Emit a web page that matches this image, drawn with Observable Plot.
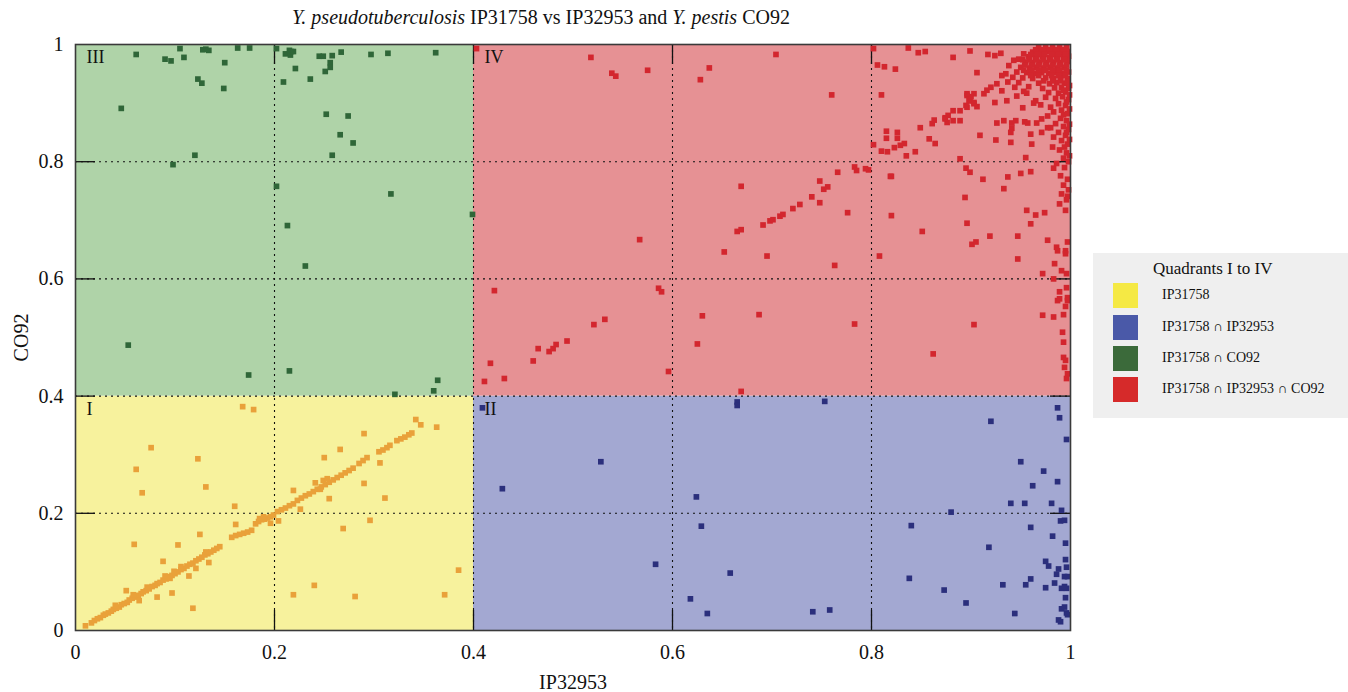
<!DOCTYPE html>
<html>
<head>
<meta charset="utf-8">
<script src="https://cdn.jsdelivr.net/npm/d3@7"></script>
<script src="https://cdn.jsdelivr.net/npm/@observablehq/plot@0.6"></script>
<style>
  body { margin: 0; background: #fff; font-family: "Liberation Serif", "DejaVu Serif", serif; }
  #wrap { position: relative; width: 1348px; height: 692px; overflow: hidden; }
  #title { position: absolute; left: 0; top: 6px; width: 1082px; text-align: center; font-size: 20px; color: #111; }
  #chart { position: absolute; left: 0; top: 0; }
  #legend { position: absolute; left: 1093px; top: 253px; width: 255px; height: 165px; background: #efefef; }
  #legend .lt { position: absolute; left: 60px; top: 6px; font-size: 17px; color: #111; }
  #legend .sw { position: absolute; left: 20px; width: 25px; height: 25px; }
  #legend .lb { position: absolute; left: 69px; font-size: 14px; color: #111; }
  svg text { font-family: "Liberation Serif", "DejaVu Serif", serif; }
</style>
</head>
<body>
<div id="wrap">
  <div id="chart"></div>
  <div id="title"><i>Y. pseudotuberculosis</i> IP31758 vs IP32953 and <i>Y. pestis</i> CO92</div>
  <div id="legend"></div>
</div>
<script>
// ---------- data ----------
const xTicks = [0, 0.2, 0.4, 0.6, 0.8, 1];
const yTicks = [0, 0.2, 0.4, 0.6, 0.8, 1];
const gridTicks = [0.2, 0.4, 0.6, 0.8];
const xLabel = "IP32953";
const yLabel = "CO92";
const legendTitle = "Quadrants I to IV";
const quadNames = ["I", "II", "III", "IV"];
const legendLabels = ["IP31758", "IP31758 \u2229 IP32953", "IP31758 \u2229 CO92", "IP31758 \u2229 IP32953 \u2229 CO92"];
const quadX1 = [0, 0.4, 0, 0.4];
const quadX2 = [0.4, 1, 0.4, 1];
const quadY1 = [0, 0, 0.4, 0.4];
const quadY2 = [0.4, 0.4, 1, 1];

// Quadrant I: IP31758 only
const ptsI = [
[0.010,0.008],[0.016,0.013],[0.019,0.017],[0.022,0.020],[0.025,0.022],[0.028,0.026],[0.030,0.028],[0.033,0.030],
[0.036,0.033],[0.038,0.036],[0.041,0.038],[0.044,0.040],[0.046,0.044],[0.049,0.046],[0.052,0.048],[0.054,0.052],
[0.057,0.055],[0.060,0.057],[0.063,0.060],[0.066,0.063],[0.068,0.066],[0.071,0.068],[0.074,0.071],[0.077,0.075],
[0.080,0.077],[0.082,0.080],[0.085,0.082],[0.088,0.086],[0.091,0.088],[0.094,0.092],[0.097,0.094],[0.100,0.097],
[0.103,0.100],[0.106,0.104],[0.109,0.106],[0.112,0.110],[0.115,0.113],[0.118,0.115],[0.121,0.119],[0.124,0.122],
[0.127,0.125],[0.130,0.129],[0.133,0.131],[0.136,0.134],[0.139,0.137],[0.142,0.140],[0.145,0.143],
[0.040,0.043],[0.058,0.061],[0.072,0.074],[0.090,0.093],[0.095,0.089],[0.099,0.101],[0.106,0.109],[0.131,0.134],
[0.157,0.159],[0.161,0.162],[0.165,0.164],[0.169,0.166],[0.173,0.168],[0.177,0.171],
[0.181,0.182],[0.184,0.186],[0.187,0.189],[0.190,0.190],[0.193,0.192],[0.196,0.194],[0.199,0.197],[0.185,0.191],[0.189,0.194],
[0.203,0.203],[0.207,0.206],[0.211,0.209],[0.215,0.213],[0.219,0.216],
[0.223,0.222],[0.227,0.226],[0.231,0.230],[0.235,0.233],[0.239,0.237],[0.243,0.241],[0.247,0.245],[0.251,0.249],
[0.255,0.253],[0.259,0.257],[0.263,0.261],[0.267,0.265],[0.271,0.269],[0.275,0.273],[0.279,0.277],[0.249,0.256],
[0.253,0.259],[0.246,0.241],[0.285,0.285],[0.289,0.290],[0.293,0.295],
[0.305,0.305],[0.309,0.308],[0.313,0.312],[0.316,0.316],
[0.323,0.324],[0.327,0.327],[0.331,0.330],[0.335,0.334],[0.338,0.337],[0.342,0.360],[0.347,0.351],
[0.168,0.382],[0.179,0.377],[0.076,0.312],[0.061,0.275],[0.067,0.235],[0.123,0.293],[0.131,0.245],[0.160,0.212],
[0.161,0.181],[0.125,0.164],[0.059,0.147],[0.103,0.146],[0.088,0.118],[0.134,0.116],[0.051,0.068],[0.064,0.051],
[0.082,0.057],[0.097,0.064],[0.118,0.038],[0.114,0.093],[0.121,0.106],[0.196,0.183],[0.204,0.187],[0.219,0.239],
[0.226,0.207],[0.241,0.252],[0.250,0.295],[0.266,0.309],[0.255,0.225],[0.269,0.174],[0.290,0.336],[0.290,0.251],
[0.296,0.188],[0.306,0.286],[0.311,0.226],[0.363,0.347],[0.385,0.103],[0.371,0.061],[0.281,0.058],[0.240,0.077],[0.219,0.061]
];

// Quadrant II: IP31758 ∩ IP32953
const ptsII = [
[0.409,0.380],[0.429,0.242],[0.528,0.288],[0.583,0.113],[0.624,0.228],[0.629,0.178],[0.618,0.054],[0.635,0.029],
[0.658,0.098],[0.665,0.390],[0.665,0.384],[0.753,0.391],[0.741,0.032],[0.758,0.035],[0.838,0.089],[0.840,0.179],
[0.873,0.069],[0.880,0.202],[0.895,0.047],[0.918,0.142],[0.920,0.357],[0.932,0.078],[0.940,0.217],[0.944,0.029],
[0.950,0.288],[0.954,0.217],[0.955,0.078],[0.960,0.176],[0.960,0.088],[0.962,0.247],[0.973,0.272],[0.975,0.118],
[0.978,0.110],[0.975,0.073],[0.981,0.217],[0.982,0.161],[0.984,0.081],[0.986,0.096],[0.987,0.380],[0.989,0.363],
[0.987,0.254],[0.988,0.105],[0.991,0.205],[0.990,0.187],[0.994,0.188],[0.991,0.072],[0.995,0.149],[0.996,0.326],
[0.995,0.121],[0.996,0.108],[0.994,0.092],[0.997,0.092],[0.996,0.072],[0.994,0.075],[0.995,0.056],[0.991,0.037],
[0.994,0.040],[0.996,0.030],[0.997,0.027],[0.988,0.018],[0.990,0.015]
];

// Quadrant III: IP31758 ∩ CO92
const ptsIII = [
[0.061,0.983],[0.090,0.975],[0.096,0.972],[0.105,0.993],[0.109,0.978],[0.128,0.991],[0.131,0.992],[0.134,0.990],
[0.150,0.969],[0.163,0.994],[0.175,0.994],[0.123,0.941],[0.127,0.934],[0.149,0.925],[0.046,0.891],[0.120,0.811],
[0.098,0.795],[0.202,0.993],[0.211,0.984],[0.215,0.990],[0.217,0.988],[0.216,0.982],[0.219,0.988],[0.221,0.959],
[0.209,0.936],[0.236,0.941],[0.245,0.980],[0.249,0.980],[0.258,0.981],[0.256,0.969],[0.256,0.961],[0.251,0.954],
[0.267,0.987],[0.297,0.983],[0.314,0.985],[0.362,0.986],[0.252,0.881],[0.274,0.878],[0.266,0.846],[0.279,0.832],
[0.258,0.811],[0.202,0.758],[0.317,0.745],[0.399,0.710],[0.213,0.691],[0.231,0.622],[0.053,0.487],[0.174,0.436],
[0.215,0.443],[0.364,0.427],[0.360,0.409],[0.321,0.403]
];

// Quadrant IV: IP31758 ∩ IP32953 ∩ CO92
const ptsIV = [
[0.403,0.993],[0.518,0.978],[0.539,0.951],[0.543,0.946],[0.575,0.956],[0.628,0.940],[0.637,0.960],[0.704,0.983],
[0.760,0.914],[0.669,0.758],[0.567,0.667],[0.652,0.646],[0.695,0.639],[0.763,0.623],[0.776,0.713],[0.665,0.681],
[0.669,0.684],[0.691,0.692],[0.698,0.699],[0.701,0.701],[0.708,0.707],[0.711,0.710],[0.721,0.720],[0.728,0.727],
[0.740,0.740],[0.748,0.730],[0.748,0.767],[0.752,0.753],[0.756,0.757],[0.766,0.782],[0.783,0.791],[0.785,0.785],
[0.797,0.786],[0.411,0.425],[0.431,0.430],[0.417,0.456],[0.421,0.580],[0.460,0.460],[0.465,0.481],[0.476,0.476],
[0.480,0.481],[0.483,0.488],[0.494,0.494],[0.521,0.522],[0.532,0.531],[0.586,0.584],[0.589,0.578],[0.596,0.442],
[0.625,0.489],[0.630,0.537],[0.669,0.408],[0.687,0.539],[0.783,0.523],[0.808,0.639],[0.862,0.472],[0.851,0.681],
[0.820,0.708],[0.819,0.775],
[0.802,0.993],[0.806,0.965],[0.813,0.962],[0.824,0.958],[0.837,0.994],[0.847,0.986],[0.854,0.988],[0.882,0.978],
[0.899,0.989],[0.917,0.983],[0.924,0.981],[0.930,0.985],[0.906,0.952],[0.810,0.914],
[0.849,0.858],[0.861,0.865],[0.863,0.871],[0.874,0.875],[0.877,0.879],[0.882,0.887],[0.889,0.887],[0.896,0.893],
[0.899,0.904],[0.903,0.899],[0.896,0.913],[0.903,0.916],[0.913,0.916],[0.916,0.922],[0.920,0.927],[0.926,0.933],
[0.931,0.947],[0.935,0.950],[0.938,0.964],[0.943,0.973],[0.948,0.975],[0.953,0.984],[0.876,0.867],[0.882,0.870],
[0.889,0.870],[0.874,0.873],[0.895,0.896],[0.898,0.904],[0.900,0.911],[0.903,0.901],[0.906,0.894],[0.896,0.916],
[0.924,0.901],[0.956,0.917],[0.965,0.904],[0.963,0.900],[0.926,0.866],[0.933,0.870],[0.941,0.866],[0.945,0.870],
[0.954,0.868],[0.957,0.866],[0.966,0.866],[0.971,0.873],[0.941,0.857],[0.940,0.850],[0.960,0.847],[0.961,0.830],
[0.955,0.807],[0.971,0.850],[0.980,0.858],[0.802,0.829],[0.815,0.852],[0.815,0.840],[0.826,0.850],[0.826,0.840],
[0.810,0.818],[0.816,0.817],[0.823,0.824],[0.829,0.828],[0.833,0.831],[0.835,0.810],[0.844,0.817],[0.858,0.839],
[0.864,0.831],[0.909,0.845],[0.925,0.837],[0.940,0.833],[0.889,0.805],[0.895,0.789],[0.899,0.782],[0.912,0.770],
[0.937,0.774],[0.950,0.780],[0.960,0.783],[0.933,0.754],[0.894,0.739],[0.820,0.775],[0.956,0.717],[0.965,0.709],
[0.974,0.713],[0.983,0.789],[0.794,0.788],
[0.989,0.728],[0.995,0.717],[0.997,0.741],[0.960,0.694],[0.896,0.695],[0.901,0.659],[0.905,0.663],[0.919,0.673],
[0.947,0.673],[0.947,0.634],[0.977,0.666],[0.986,0.654],[0.987,0.648],[0.995,0.648],[0.995,0.643],[0.997,0.663],
[0.984,0.626],[0.972,0.609],[0.991,0.614],[0.996,0.609],[0.983,0.600],[0.996,0.585],[0.989,0.578],[0.987,0.563],
[0.989,0.566],[0.997,0.568],[0.997,0.563],[0.995,0.553],[0.972,0.538],[0.983,0.535],[0.993,0.539],[0.903,0.522],
[0.992,0.509],[0.993,0.492],[0.993,0.466],[0.995,0.461],[0.994,0.449],[0.997,0.438],[0.996,0.430],
[0.968,0.995],[0.975,0.995],[0.982,0.995],[0.989,0.995],[0.996,0.995],
[0.962,0.987],[0.970,0.986],[0.977,0.988],[0.984,0.987],[0.991,0.986],[0.997,0.988],
[0.958,0.979],[0.965,0.978],[0.972,0.979],[0.979,0.978],[0.986,0.979],[0.993,0.978],[0.998,0.980],
[0.955,0.970],[0.962,0.969],[0.969,0.970],[0.976,0.969],[0.983,0.970],[0.990,0.969],[0.997,0.971],
[0.950,0.961],[0.959,0.960],[0.966,0.961],[0.973,0.960],[0.980,0.961],[0.987,0.960],[0.994,0.961],
[0.946,0.953],[0.956,0.952],[0.964,0.951],[0.971,0.952],[0.978,0.951],[0.985,0.952],[0.992,0.951],[0.998,0.953],
[0.942,0.944],[0.952,0.943],[0.962,0.942],[0.975,0.943],[0.983,0.942],[0.990,0.943],[0.997,0.942],
[0.937,0.936],[0.948,0.935],[0.968,0.934],[0.979,0.933],[0.986,0.935],[0.994,0.934],
[0.944,0.927],[0.958,0.928],[0.972,0.925],[0.984,0.926],[0.991,0.927],[0.998,0.925],
[0.931,0.921],[0.953,0.920],[0.978,0.918],[0.988,0.917],[0.995,0.919],
[0.946,0.912],[0.975,0.910],[0.985,0.908],[0.992,0.911],[0.998,0.906],
[0.936,0.904],[0.970,0.897],[0.980,0.893],[0.988,0.899],[0.995,0.896],
[0.952,0.892],[0.983,0.885],[0.991,0.888],[0.997,0.882],
[0.977,0.878],[0.990,0.874],[0.996,0.870],[0.985,0.865],[0.993,0.860],[0.998,0.855],
[0.977,0.858],[0.988,0.850],[0.995,0.845],[0.983,0.842],[0.991,0.836],[0.997,0.830],
[0.982,0.825],[0.989,0.820],[0.996,0.815],[0.993,0.806],[0.998,0.800],[0.986,0.797],
[0.994,0.790],[0.990,0.776],[0.997,0.770],[0.993,0.760],[0.998,0.752],[0.991,0.745],[0.996,0.735],
[0.965,0.991],[0.972,0.991],[0.979,0.991],[0.986,0.991],[0.993,0.991],
[0.960,0.983],[0.967,0.983],[0.974,0.983],[0.981,0.983],[0.988,0.983],[0.995,0.983],
[0.952,0.974],[0.959,0.974],[0.966,0.974],[0.973,0.974],[0.980,0.974],[0.987,0.974],[0.994,0.974],
[0.954,0.965],[0.961,0.965],[0.968,0.965],[0.975,0.965],[0.982,0.965],[0.989,0.965],[0.996,0.965],
[0.953,0.956],[0.961,0.956],[0.968,0.956],[0.975,0.956],[0.982,0.956],[0.989,0.956],[0.996,0.956],
[0.960,0.947],[0.968,0.947],[0.981,0.947],[0.988,0.947],[0.995,0.947],
[0.973,0.938],[0.982,0.938],[0.990,0.938],[0.997,0.937],
[0.999,0.930],[0.993,0.922],[0.999,0.914],[0.996,0.902],[0.999,0.890],[0.993,0.880],[0.999,0.864],
[0.996,0.850],[0.999,0.838],[0.994,0.825],[0.999,0.810]
];

// ---------- styling ----------
const bgColor = {I: "#f7f29d", II: "#a3a8d2", III: "#afd3a8", IV: "#e69194"};
const dotColor = {I: "#e9a13a", II: "#2b2f7c", III: "#2f6638", IV: "#d3262e"};
const legendColor = ["#f5e944", "#4a59a8", "#3b6a3a", "#d62a2a"];
const serif = "Liberation Serif, DejaVu Serif, serif";

const quads = quadNames.map((q, i) => ({q, x1: quadX1[i], x2: quadX2[i], y1: quadY1[i], y2: quadY2[i]}));
const series = [["I", ptsI], ["II", ptsII], ["III", ptsIII], ["IV", ptsIV]];
const allPts = series.flatMap(([q, arr]) => arr.map(p => ({q, x: p[0], y: p[1]})));

const W = 1082, H = 692, mT = 44, mL = 75, mR = 12, mB = 62;
const fw = W - mL - mR, fh = H - mT - mB;
const fmt = d => String(d);

const chart = Plot.plot({
  width: W, height: H,
  marginTop: mT, marginLeft: mL, marginRight: mR, marginBottom: mB,
  style: {fontFamily: serif, background: "transparent", color: "#111"},
  x: {domain: [0, 1]},
  y: {domain: [0, 1]},
  marks: [
    Plot.rect(quads, {x1: "x1", x2: "x2", y1: "y1", y2: "y2", fill: d => bgColor[d.q]}),
    Plot.ruleX(gridTicks, {stroke: "#111", strokeWidth: 1.1, strokeDasharray: "2,4"}),
    Plot.ruleY(gridTicks, {stroke: "#111", strokeWidth: 1.1, strokeDasharray: "2,4"}),
    Plot.ruleX(gridTicks, {stroke: "#111", strokeWidth: 1.3, insetTop: fh - 20}),
    Plot.ruleX(gridTicks, {stroke: "#111", strokeWidth: 1.3, insetBottom: fh - 20}),
    Plot.ruleY(gridTicks, {stroke: "#111", strokeWidth: 1.3, insetRight: fw - 20}),
    Plot.ruleY(gridTicks, {stroke: "#111", strokeWidth: 1.3, insetLeft: fw - 20}),
    Plot.dot(allPts, {x: "x", y: "y", symbol: "square", r: 3.2, fill: d => dotColor[d.q], stroke: "none"}),
    Plot.text(quads, {x: "x1", y: "y2", text: "q", textAnchor: "start", dx: 11, dy: 13, fontSize: 18, fontFamily: serif, fill: "#111"}),
    Plot.frame({stroke: "#3a3a3a", strokeWidth: 1.6}),
    Plot.axisX({ticks: xTicks, tickFormat: fmt, tickSize: 0, tickPadding: 14, fontSize: 20, fontFamily: serif,
      label: xLabel, labelAnchor: "center", labelOffset: 58, labelArrow: "none"}),
    Plot.axisY({ticks: yTicks, tickFormat: fmt, tickSize: 0, tickPadding: 12, fontSize: 20, fontFamily: serif,
      label: yLabel, labelAnchor: "center", labelOffset: 62, labelArrow: "none"})
  ]
});
document.getElementById("chart").appendChild(chart);

// legend
const lg = document.getElementById("legend");
const t = document.createElement("div");
t.className = "lt"; t.textContent = legendTitle; lg.appendChild(t);
const swTops = [30, 62, 93, 124];
legendLabels.forEach((lab, i) => {
  const s = document.createElement("div");
  s.className = "sw"; s.style.top = swTops[i] + "px"; s.style.background = legendColor[i];
  lg.appendChild(s);
  const l = document.createElement("div");
  l.className = "lb"; l.style.top = (swTops[i] + 4) + "px"; l.textContent = lab;
  lg.appendChild(l);
});
</script>
</body>
</html>
